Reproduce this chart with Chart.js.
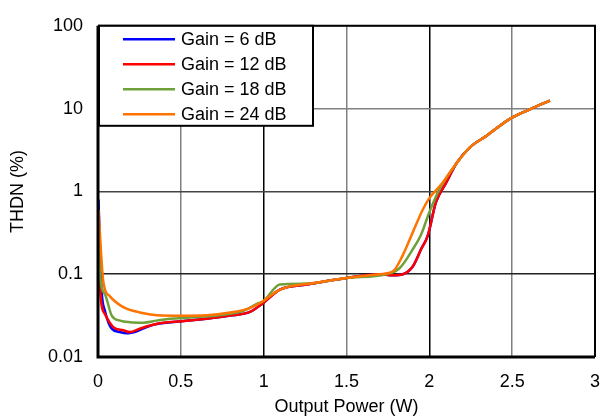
<!DOCTYPE html>
<html>
<head>
<meta charset="utf-8">
<script src="https://cdn.jsdelivr.net/npm/chart.js@4/dist/chart.umd.min.js"></script>
<style>
  html, body { margin: 0; padding: 0; background: #fff; }
  #wrap { width: 601px; height: 418px; }
</style>
</head>
<body>
<div id="wrap"><canvas id="thdn"></canvas></div>
<script>
// Series labels and colours
const labels = ["Gain = 6 dB", "Gain = 12 dB", "Gain = 18 dB", "Gain = 24 dB"];
const colors = ["#0000ff", "#ff0000", "#70a03a", "#ff7300"];

// Output power (W) / THDN (%)
const power6 = [0.003, 0.012, 0.022, 0.042, 0.083, 0.133, 0.173, 0.234, 0.294, 0.354, 0.505, 0.656, 0.797, 0.917, 0.998, 1.098, 1.26, 1.5, 1.7, 1.78, 1.84, 1.9, 1.95, 1.99, 2.04, 2.1, 2.165, 2.245, 2.346, 2.486, 2.607, 2.728];
const thdn6  = [0.8, 0.2, 0.062, 0.036, 0.022, 0.02, 0.0194, 0.0205, 0.023, 0.025, 0.027, 0.029, 0.0316, 0.035, 0.045, 0.065, 0.075, 0.09, 0.1, 0.097, 0.1, 0.124, 0.2, 0.29, 0.74, 1.26, 2.2, 3.4, 4.7, 7.5, 9.8, 12.5];

const power12 = [0.003, 0.012, 0.042, 0.092, 0.153, 0.193, 0.253, 0.314, 0.394, 0.505, 0.656, 0.797, 0.917, 0.998, 1.098, 1.26, 1.5, 1.7, 1.78, 1.84, 1.9, 1.95, 1.99, 2.04, 2.1, 2.165, 2.245, 2.346, 2.486, 2.607, 2.728];
const thdn12  = [0.5, 0.068, 0.033, 0.023, 0.021, 0.02, 0.022, 0.024, 0.026, 0.027, 0.029, 0.0316, 0.035, 0.045, 0.065, 0.075, 0.09, 0.1, 0.097, 0.1, 0.124, 0.2, 0.29, 0.74, 1.26, 2.2, 3.4, 4.7, 7.5, 9.8, 12.5];

const power18 = [0.003, 0.012, 0.042, 0.083, 0.133, 0.193, 0.274, 0.354, 0.435, 0.555, 0.716, 0.877, 0.958, 1.0, 1.098, 1.26, 1.5, 1.74, 1.82, 1.9, 1.95, 2.0, 2.06, 2.15, 2.245, 2.346, 2.486, 2.607, 2.728];
const thdn18  = [0.6, 0.1, 0.057, 0.0316, 0.0275, 0.0263, 0.026, 0.0275, 0.029, 0.03, 0.0316, 0.036, 0.0437, 0.0475, 0.075, 0.077, 0.09, 0.1, 0.118, 0.2, 0.3, 0.56, 1.05, 2.0, 3.4, 4.7, 7.5, 9.8, 12.5];

const power24 = [0.003, 0.032, 0.072, 0.153, 0.253, 0.354, 0.505, 0.656, 0.797, 0.917, 0.998, 1.079, 1.159, 1.26, 1.5, 1.7, 1.78, 1.84, 1.9, 1.96, 2.0, 2.07, 2.165, 2.245, 2.346, 2.486, 2.607, 2.728];
const thdn24  = [0.6, 0.082, 0.054, 0.04, 0.0345, 0.032, 0.0316, 0.032, 0.0345, 0.039, 0.0475, 0.062, 0.0716, 0.076, 0.09, 0.1, 0.108, 0.17, 0.32, 0.6, 0.83, 1.2, 2.2, 3.4, 4.7, 7.5, 9.8, 12.5];

// Axis ticks
const xTicks = [0, 0.5, 1, 1.5, 2, 2.5, 3];
const yTicks = [0.01, 0.1, 1, 10, 100];

const seriesX = [power6, power12, power18, power24];
const seriesY = [thdn6, thdn12, thdn18, thdn24];

const FONT = "'Liberation Sans', Arial, sans-serif";

const datasets = labels.map((lab, i) => ({
    label: lab,
    data: seriesX[i].map((p, k) => ({ x: p, y: seriesY[i][k] })),
    borderColor: colors[i],
    backgroundColor: colors[i],
    borderWidth: 2.5,
    pointRadius: 0,
    cubicInterpolationMode: "monotone",
    order: labels.length - i   // orange on top, blue at the bottom
}));

// legend box drawn inside the plot, top-left, plus the frame
const boxLegend = {
    id: "boxLegend",
    afterDraw(chart) {
        const ctx = chart.ctx;
        const a = chart.chartArea;
        ctx.save();
        // frame
        ctx.strokeStyle = "#000";
        ctx.lineWidth = 2;
        ctx.beginPath();
        ctx.moveTo(a.left, a.top);
        ctx.lineTo(a.right, a.top);
        ctx.lineTo(a.right, a.bottom);
        ctx.stroke();
        ctx.lineWidth = 3;
        ctx.beginPath();
        ctx.moveTo(a.left, a.top);
        ctx.lineTo(a.left, a.bottom);
        ctx.lineTo(a.right, a.bottom);
        ctx.stroke();

        // legend
        const x0 = a.left + 1, y0 = a.top, w = 214, h = 100;
        ctx.fillStyle = "#fff";
        ctx.fillRect(x0, y0, w, h);
        ctx.lineWidth = 2;
        ctx.strokeRect(x0, y0, w, h);
        ctx.font = "18px " + FONT;
        ctx.textBaseline = "middle";
        chart.data.datasets.forEach((ds, i) => {
            const y = y0 + 13.5 + i * 25;
            ctx.strokeStyle = ds.borderColor;
            ctx.lineWidth = 2.5;
            ctx.beginPath();
            ctx.moveTo(x0 + 24, y);
            ctx.lineTo(x0 + 76, y);
            ctx.stroke();
            ctx.fillStyle = "#000";
            ctx.fillText(ds.label, x0 + 82, y + 1);
        });
        ctx.restore();
    }
};

new Chart(document.getElementById("thdn"), {
    type: "line",
    data: { datasets: datasets },
    options: {
        responsive: true,
        maintainAspectRatio: false,
        animation: false,
        layout: { padding: { top: 20, right: 6, left: 0, bottom: 0 } },
        plugins: {
            legend: { display: false },
            tooltip: { enabled: false }
        },
        scales: {
            x: {
                type: "linear",
                min: 0,
                max: 3,
                afterBuildTicks: s => { s.ticks = xTicks.map(v => ({ value: v })); },
                afterFit: s => { s.height = 61; s.paddingLeft = 0; s.paddingRight = 0; },
                grid: {
                    drawTicks: false,
                    lineWidth: 1.5,
                    color: c => (c.tick && (c.tick.value === 1 || c.tick.value === 2)) ? "#000" : "#808080"
                },
                border: { display: false },
                ticks: {
                    padding: 14,
                    color: "#000",
                    font: { family: FONT, size: 18 },
                    maxRotation: 0,
                    callback: v => String(v)
                },
                title: {
                    display: true,
                    text: "Output Power (W)",
                    color: "#000",
                    font: { family: FONT, size: 18 },
                    padding: 0
                }
            },
            y: {
                type: "logarithmic",
                min: 0.01,
                max: 100,
                afterBuildTicks: s => { s.ticks = yTicks.map(v => ({ value: v })); },
                afterFit: s => { s.width = 98; },
                grid: {
                    drawTicks: false,
                    lineWidth: 1.5,
                    color: c => (c.tick && c.tick.value === 0.1) ? "#222" : (c.tick && c.tick.value === 1 ? "#444" : "#808080")
                },
                border: { display: false },
                ticks: {
                    padding: 15,
                    color: "#000",
                    font: { family: FONT, size: 18 },
                    callback: v => String(v)
                },
                title: {
                    display: true,
                    text: "THDN (%)",
                    color: "#000",
                    font: { family: FONT, size: 18 },
                    padding: { top: 7, bottom: 0 }
                }
            }
        }
    },
    plugins: [boxLegend]
});
</script>
</body>
</html>
